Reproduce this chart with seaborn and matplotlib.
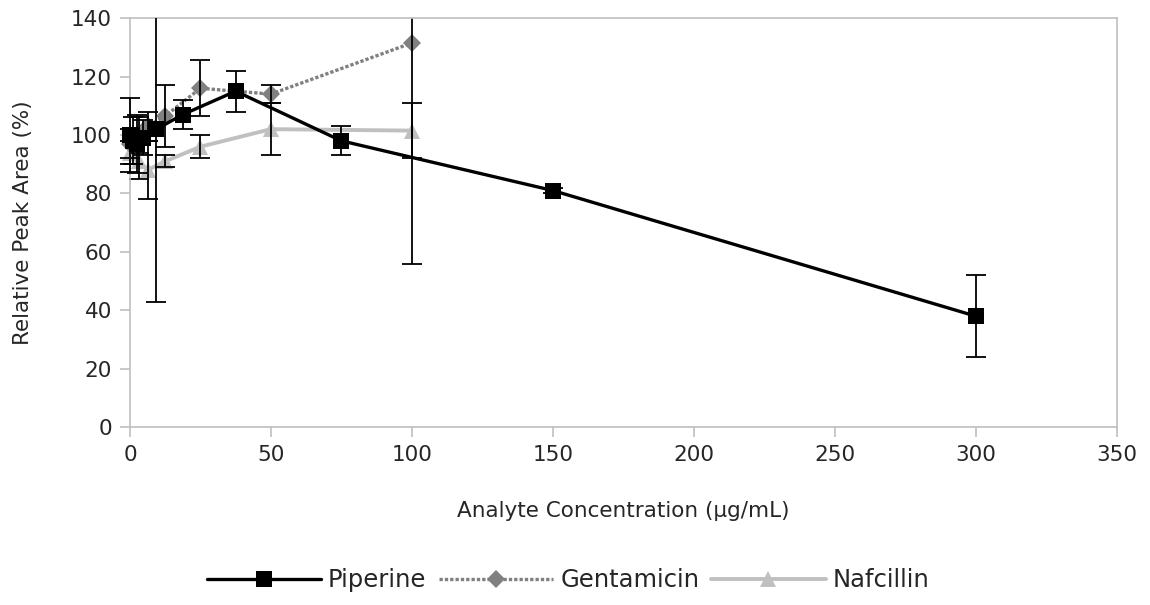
import pandas as pd
import matplotlib
matplotlib.use("Agg")
import matplotlib.pyplot as plt
from matplotlib.patches import Rectangle
import seaborn as sns

# Werte (geschaetzt)
pip_x = [0, 1.17, 2.34, 4.69, 9.38, 18.75, 37.5, 75, 150, 300]
pip_y = [100, 98, 97, 99, 102, 107, 115, 98, 81, 38]
pip_err = [12.5, 8, 10, 6, 59, 5, 7, 5, 1, 14]

gen_x = [0, 3.13, 6.25, 12.5, 25, 50, 100]
gen_y = [97, 100, 103, 106.5, 116, 114, 131.5]
gen_err = [5, 6, 5, 10.5, 9.6, 3, 75.5]

naf_x = [0, 3.13, 6.25, 12.5, 25, 50, 100]
naf_y = [94, 91, 88, 91, 96, 102, 101.5]
naf_err = [4, 6, 10, 2, 4, 9, 9.5]

x_ticks = [0, 50, 100, 150, 200, 250, 300, 350]
y_ticks = [0, 20, 40, 60, 80, 100, 120, 140]

sns.set_style("white")
plt.rcParams['font.family'] = ['DejaVu Sans']

fig, ax = plt.subplots(figsize=(11.5, 6.05), dpi=100)
fig.subplots_adjust(left=0.113, right=0.971, top=0.970, bottom=0.294)

series = [
    ("Nafcillin", naf_x, naf_y, naf_err, "#c0c0c0", "-", "^", 12, 2.8, 1),
    ("Gentamicin", gen_x, gen_y, gen_err, "#808080", (0, (1, 0.6)), "D", 9, 2.4, 2),
    ("Piperine", pip_x, pip_y, pip_err, "black", "-", "s", 11, 2.4, 3),
]

# Fehlerbalken duerfen links etwas ueber die Achse, oben wird abgeschnitten
clip = Rectangle((-0.03, -0.05), 1.06, 1.05, transform=ax.transAxes,
                 facecolor="none", edgecolor="none")
ax.add_patch(clip)

for name, xs, ys, errs, color, ls, mk, ms, lw, z in series:
    df = pd.DataFrame({"x": xs, "y": ys})
    sns.lineplot(data=df, x="x", y="y", ax=ax, color=color, linestyle=ls,
                 linewidth=lw, marker=mk, markersize=ms, markeredgewidth=0,
                 errorbar=None, label=name, zorder=z, clip_on=False)
    eb = ax.errorbar(xs, ys, yerr=errs, fmt="none", ecolor="black", elinewidth=1.3,
                     capsize=7, capthick=1.3, zorder=z + 0.5)
    for a in list(eb[1]) + list(eb[2]):
        a.set_clip_path(clip)

ax.set_xlim(0, 350)
ax.set_ylim(0, 140)
ax.set_xticks(x_ticks)
ax.set_yticks(y_ticks)

for s in ax.spines.values():
    s.set_color("#bfbfbf")
    s.set_linewidth(1.2)
ax.tick_params(axis="both", bottom=True, left=True, direction="out", length=7,
               width=1.2, color="#bfbfbf", labelsize=15.5, labelcolor="#262626", pad=6)

ax.set_xlabel("Analyte Concentration (µg/mL)", fontsize=15.5, color="#262626", labelpad=26)
ax.set_ylabel("Relative Peak Area (%)", fontsize=15.5, color="#262626", labelpad=27)

ax.get_legend().remove()
h, l = ax.get_legend_handles_labels()
order = ["Piperine", "Gentamicin", "Nafcillin"]
hl = dict(zip(l, h))
fig.legend([hl[o] for o in order], order, loc="center", bbox_to_anchor=(0.494, 0.041),
           ncol=3, frameon=False, fontsize=17.5, handlelength=4.7, columnspacing=0.5,
           handletextpad=0.3, labelcolor="#262626")

fig.savefig("out.png", dpi=100)
